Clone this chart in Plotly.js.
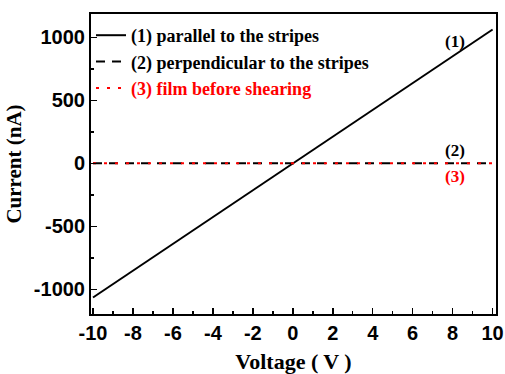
<!DOCTYPE html>
<html>
<head>
<meta charset="utf-8">
<script src="https://cdn.plot.ly/plotly-3.0.1.min.js"></script>
<style>html,body{margin:0;padding:0;background:#fff;}#chart{width:505px;height:374px;}</style>
</head>
<body>
<div id="chart"></div>
<script>
const voltage = [-10, -5, 0, 5, 10];
const parallelCurrent = [-1065, -532, 0, 530, 1062];
const perpendicularCurrent = [0, 0, 0, 0, 0];
const beforeShearingCurrent = [0, 0, 0, 0, 0];
const seriesNames = ['(1) parallel to the stripes', '(2) perpendicular to the stripes', '(3) film before shearing'];
const xTicks = [-10, -8, -6, -4, -2, 0, 2, 4, 6, 8, 10];
const yTicks = [-1000, -500, 0, 500, 1000];

const traces = [
  {x: voltage, y: parallelCurrent, mode: 'lines', name: seriesNames[0],
   line: {color: '#000', width: 2, dash: 'solid'}},
  {x: voltage, y: perpendicularCurrent, mode: 'lines', name: seriesNames[1],
   line: {color: '#000', width: 2, dash: '9px,7px'}},
  {x: voltage, y: beforeShearingCurrent, mode: 'lines', name: '<span style="color:#ff0000">' + seriesNames[2] + '</span>',
   line: {color: '#ff0000', width: 2, dash: '3px,8px'}}
];

const layout = {
  width: 505, height: 374,
  margin: {l: 91, r: 9, t: 14, b: 60},
  paper_bgcolor: '#fff', plot_bgcolor: '#fff',
  showlegend: true,
  legend: {x: 0.0, y: 0.99, xanchor: 'left', yanchor: 'top', bgcolor: 'rgba(0,0,0,0)',
    font: {family: 'Liberation Serif, Times New Roman, serif', size: 18, color: '#000', weight: 'bold'},
    itemwidth: 30, tracegroupgap: 0},
  xaxis: {range: [-10.1, 10.17], tickvals: xTicks, ticktext: xTicks.map(String),
    ticks: 'inside', ticklen: 6, tickwidth: 1.5, tickcolor: '#000',
    minor: {dtick: 1, ticks: 'inside', ticklen: 3, tickwidth: 1.5, tickcolor: '#000'},
    showline: true, linecolor: '#000', linewidth: 2, mirror: true, showgrid: false, zeroline: false,
    tickfont: {family: 'Liberation Sans, Arial, sans-serif', size: 20, color: '#000', weight: 'bold'},
    title: {text: 'Voltage ( V )', standoff: 12,
      font: {family: 'Liberation Serif, Times New Roman, serif', size: 22, color: '#000', weight: 'bold'}}},
  yaxis: {range: [-1196, 1185], tickvals: yTicks, ticktext: yTicks.map(String),
    ticks: 'inside', ticklen: 6, tickwidth: 1.5, tickcolor: '#000',
    minor: {dtick: 250, ticks: 'inside', ticklen: 3, tickwidth: 1.5, tickcolor: '#000'},
    showline: true, linecolor: '#000', linewidth: 2, mirror: true, showgrid: false, zeroline: false,
    tickfont: {family: 'Liberation Sans, Arial, sans-serif', size: 20, color: '#000', weight: 'bold'},
    title: {text: 'Current (nA)', standoff: 6,
      font: {family: 'Liberation Serif, Times New Roman, serif', size: 21, color: '#000', weight: 'bold'}}},
  annotations: [
    {x: 8.1, y: 970, text: '(1)', showarrow: false, xanchor: 'center',
     font: {family: 'Liberation Serif, Times New Roman, serif', size: 17, color: '#000', weight: 'bold'}},
    {x: 8.1, y: 100, text: '(2)', showarrow: false, xanchor: 'center',
     font: {family: 'Liberation Serif, Times New Roman, serif', size: 17, color: '#000', weight: 'bold'}},
    {x: 8.1, y: -105, text: '(3)', showarrow: false, xanchor: 'center',
     font: {family: 'Liberation Serif, Times New Roman, serif', size: 17, color: '#ff0000', weight: 'bold'}}
  ]
};

Plotly.newPlot('chart', traces, layout, {displayModeBar: false, staticPlot: true});
</script>
</body>
</html>
